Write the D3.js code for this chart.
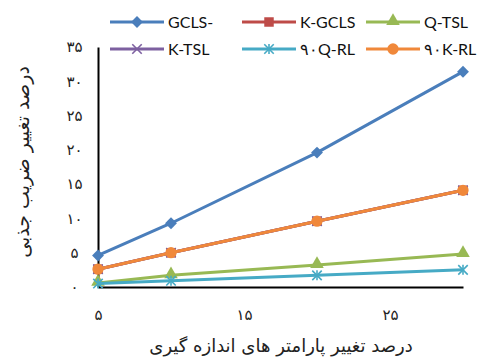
<!DOCTYPE html>
<html>
<head>
<meta charset="utf-8">
<script src="https://cdn.jsdelivr.net/npm/d3@7"></script>
<style>
  html, body { margin: 0; padding: 0; background: #fff; }
  svg { display: block; }
</style>
</head>
<body>
<svg id="chart" width="483" height="358"></svg>
<script>
// x values (percent change of measured parameters)
const xValues = [5, 10, 20, 30];

// series names as shown in the legend
const seriesNames = ["GCLS-", "K-GCLS", "Q-TSL", "K-TSL", "۹۰Q-RL", "۹۰K-RL"];

// percent change of absorption coefficient, one array per series
const gclsValues  = [4.6, 9.3, 19.6, 31.4];
const kgclsValues = [2.6, 5.0, 9.6, 14.1];
const qtslValues  = [0.6, 1.7, 3.2, 4.8];
const ktslValues  = [2.6, 5.0, 9.6, 14.1];
const qrlValues   = [0.5, 0.9, 1.7, 2.5];
const krlValues   = [2.6, 5.0, 9.6, 14.1];

const seriesColors  = ["#4a7ebb", "#be4b48", "#98b954", "#7d60a0", "#46aac5", "#f0883a"];
const seriesSymbols = ["diamond", "square", "triangle", "x", "asterisk", "circle"];

// tick labels in Persian digits
const yTicks = [0, 5, 10, 15, 20, 25, 30, 35];
const yTickLabels = ["۰", "۵", "۱۰", "۱۵", "۲۰", "۲۵", "۳۰", "۳۵"];
const xTicks = [5, 15, 25];
const xTickLabels = ["۵", "۱۵", "۲۵"];

const xTitle = "درصد تغییر پارامتر های اندازه گیری";
const yTitle = "درصد تغییر ضریب جذبی";

const allValues = [gclsValues, kgclsValues, qtslValues, ktslValues, qrlValues, krlValues];
const series = seriesNames.map((name, i) => ({
  name, color: seriesColors[i], symbol: seriesSymbols[i],
  points: xValues.map((x, j) => ({ x, y: allValues[i][j] }))
}));

const svg = d3.select("#chart");
const m = { left: 98, right: 463, top: 47, bottom: 287 };

const x = d3.scaleLinear().domain([5, 30]).range([m.left, m.right]);
const y = d3.scaleLinear().domain([0, 35]).range([m.bottom, m.top]);

const persianFont = "'DejaVu Sans', sans-serif";
const latinFont = "Lato, 'Open Sans', sans-serif";

// axes
const yAxis = d3.axisLeft(y).tickValues(yTicks).tickSize(0).tickPadding(22)
  .tickFormat((d, i) => yTickLabels[i]);
const gy = svg.append("g").attr("transform", `translate(${m.left},0)`).call(yAxis);
gy.select(".domain").attr("stroke", "#000").attr("stroke-width", 2);
gy.selectAll("text").attr("font-family", persianFont).attr("font-size", 15)
  .attr("fill", "#222").attr("text-anchor", "middle").attr("dx", "-0.1em");

const xAxis = d3.axisBottom(x).tickValues(xTicks).tickSize(0).tickPadding(22)
  .tickFormat((d, i) => xTickLabels[i]);
const gx = svg.append("g").attr("transform", `translate(0,${m.bottom})`).call(xAxis);
gx.select(".domain").attr("stroke", "#000").attr("stroke-width", 2);
gx.selectAll("text").attr("font-family", persianFont).attr("font-size", 15).attr("fill", "#222");

// axis titles
svg.append("text")
  .attr("x", 281).attr("y", 352)
  .attr("text-anchor", "middle")
  .attr("font-family", persianFont).attr("font-size", 18).attr("fill", "#222")
  .attr("direction", "rtl")
  .text(xTitle);

svg.append("text")
  .attr("transform", "translate(29,162) rotate(-90)")
  .attr("text-anchor", "middle")
  .attr("font-family", persianFont).attr("font-size", 19).attr("fill", "#222")
  .attr("direction", "rtl")
  .text(yTitle);

// marker drawing
function drawMarker(g, symbol, color, cx, cy) {
  if (symbol === "diamond") {
    g.append("path").attr("d", d3.symbol(d3.symbolDiamond2, 90)())
      .attr("transform", `translate(${cx},${cy})`).attr("fill", color);
  } else if (symbol === "square") {
    g.append("path").attr("d", d3.symbol(d3.symbolSquare, 90)())
      .attr("transform", `translate(${cx},${cy})`).attr("fill", color);
  } else if (symbol === "triangle") {
    g.append("path").attr("d", d3.symbol(d3.symbolTriangle, 80)())
      .attr("transform", `translate(${cx},${cy - 1})`).attr("fill", color);
  } else if (symbol === "circle") {
    g.append("path").attr("d", d3.symbol(d3.symbolCircle, 100)())
      .attr("transform", `translate(${cx},${cy})`).attr("fill", color);
  } else if (symbol === "x") {
    g.append("path").attr("d", d3.symbol(d3.symbolTimes, 60)())
      .attr("transform", `translate(${cx},${cy})`).attr("fill", "none")
      .attr("stroke", color).attr("stroke-width", 1.6);
  } else if (symbol === "asterisk") {
    g.append("path").attr("d", d3.symbol(d3.symbolTimes, 60)())
      .attr("transform", `translate(${cx},${cy})`).attr("fill", "none")
      .attr("stroke", color).attr("stroke-width", 1.6);
    g.append("path").attr("d", "M0,-5V5")
      .attr("transform", `translate(${cx},${cy})`)
      .attr("stroke", color).attr("stroke-width", 1.6);
  }
}

// series lines and markers
const line = d3.line().x(d => x(d.x)).y(d => y(d.y));
const plot = svg.append("g");
series.forEach(s => {
  const g = plot.append("g");
  g.append("path").datum(s.points).attr("d", line)
    .attr("fill", "none").attr("stroke", s.color).attr("stroke-width", 3)
    .attr("stroke-linejoin", "round");
  s.points.forEach(p => drawMarker(g, s.symbol, s.color, x(p.x), y(p.y)));
});

// legend: two rows of three entries
const legendCols = [110, 242, 366];
const legendRows = [22, 49];
const legendLineLen = 54;
series.forEach((s, i) => {
  const lx = legendCols[i % 3];
  const ly = legendRows[Math.floor(i / 3)];
  const g = svg.append("g");
  g.append("line").attr("x1", lx).attr("x2", lx + legendLineLen)
    .attr("y1", ly).attr("y2", ly)
    .attr("stroke", s.color).attr("stroke-width", 3);
  drawMarker(g, s.symbol, s.color, lx + legendLineLen / 2, ly);
  g.append("text").attr("x", lx + legendLineLen + 4).attr("y", ly)
    .attr("dy", "0.36em")
    .attr("font-family", latinFont).attr("font-size", 16).attr("fill", "#111")
    .attr("direction", "ltr")
    .text(s.name);
});
</script>
</body>
</html>
